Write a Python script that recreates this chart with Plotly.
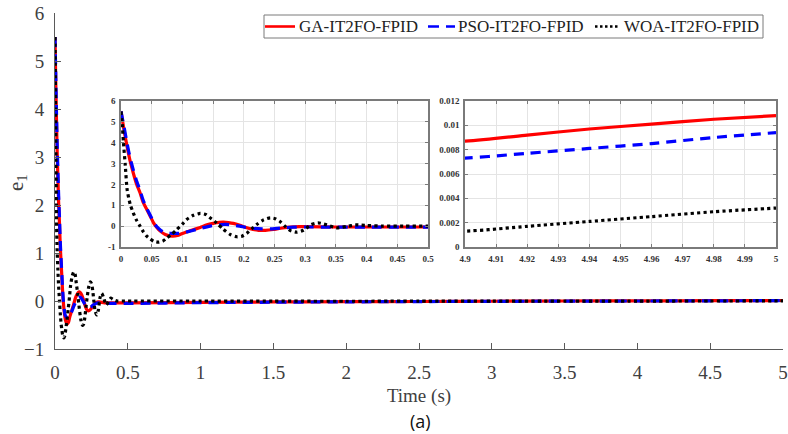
import plotly.graph_objects as go

# Error e1 of the three tuned controllers over time
t_ga = [0, 0.005, 0.01, 0.015, 0.02, 0.025, 0.031, 0.036, 0.042, 0.048, 0.053, 0.058, 0.064,
        0.072, 0.083, 0.092, 0.1, 0.115, 0.129, 0.14, 0.15, 0.16, 0.167, 0.175, 0.183, 0.195,
        0.205, 0.215, 0.224, 0.235, 0.248, 0.26, 0.275, 0.29, 0.302, 0.35, 0.4, 0.5,
        1.0, 1.5, 2.0, 2.5, 3.0, 3.5, 4.0, 4.5, 4.9, 4.92, 4.94, 4.96, 4.98, 5.0]
e_ga = [5.5, 4.6, 3.8, 3.1, 2.55, 2.05, 1.6, 1.15, 0.8, 0.45, 0.16, -0.05, -0.24,
        -0.4, -0.48, -0.45, -0.35, -0.2, -0.06, 0.06, 0.13, 0.18, 0.19, 0.17, 0.13, 0.03,
        -0.08, -0.16, -0.2, -0.2, -0.16, -0.1, -0.05, -0.02, -0.02, -0.04, -0.04, -0.04,
        -0.03, -0.02, -0.015, -0.01, -0.005, 0.0, 0.003, 0.006, 0.0087, 0.0092, 0.0097, 0.0101, 0.0105, 0.0108]

t_pso = [0, 0.005, 0.01, 0.015, 0.02, 0.025, 0.031, 0.036, 0.042, 0.048, 0.053, 0.058, 0.064,
         0.069, 0.08, 0.09, 0.1, 0.115, 0.13, 0.145, 0.157, 0.17, 0.183, 0.2, 0.215, 0.23,
         0.243, 0.26, 0.28, 0.3, 0.35, 0.4, 0.5,
         1.0, 1.5, 2.0, 2.5, 3.0, 3.5, 4.0, 4.5, 4.9, 4.92, 4.94, 4.96, 4.98, 5.0]
e_pso = [5.5, 4.75, 3.95, 3.25, 2.7, 2.2, 1.72, 1.25, 0.85, 0.5, 0.2, -0.02, -0.18,
         -0.29, -0.34, -0.35, -0.33, -0.22, -0.1, 0.0, 0.06, 0.08, 0.05, -0.04, -0.1, -0.13,
         -0.13, -0.09, -0.05, -0.04, -0.05, -0.05, -0.05,
         -0.035, -0.025, -0.018, -0.012, -0.007, -0.003, 0.0, 0.003, 0.0073, 0.0077, 0.0081, 0.0085, 0.009, 0.0094]

t_woa = [0, 0.002, 0.004, 0.007, 0.01, 0.015, 0.02, 0.025, 0.031, 0.036, 0.042, 0.048, 0.053,
         0.061, 0.068, 0.075, 0.083, 0.091, 0.1, 0.107, 0.118, 0.129, 0.138, 0.145, 0.156,
         0.167, 0.178, 0.189, 0.197, 0.205, 0.213, 0.221, 0.232, 0.243, 0.251, 0.259, 0.267,
         0.275, 0.286, 0.297, 0.31, 0.321, 0.335, 0.351, 0.367, 0.383, 0.4, 0.427, 0.46, 0.5,
         1.0, 1.5, 2.0, 2.5, 3.0, 3.5, 4.0, 4.5, 4.9, 4.92, 4.94, 4.96, 4.98, 5.0]
e_woa = [5.5, 4.9, 4.0, 2.9, 1.75, 1.04, 0.64, 0.3, 0.0, -0.25, -0.48, -0.62, -0.72,
         -0.77, -0.72, -0.56, -0.38, -0.16, 0.1, 0.32, 0.52, 0.61, 0.56, 0.4, 0.15,
         -0.16, -0.4, -0.51, -0.48, -0.34, -0.12, 0.08, 0.3, 0.4, 0.36, 0.22, 0.0,
         -0.2, -0.29, -0.2, 0.08, 0.16, 0.06, -0.08, -0.02, 0.06, 0.03, 0.0, 0.0, 0.0,
         0.0, -0.004, -0.005, -0.004, -0.003, -0.002, -0.001, 0.0, 0.0013, 0.0017, 0.0021, 0.0025, 0.0029, 0.0032]

series = [
    ("GA-IT2FO-FPID", t_ga, e_ga, "#ff0000", "solid"),
    ("PSO-IT2FO-FPID", t_pso, e_pso, "#0000ff", "10px,7px"),
    ("WOA-IT2FO-FPID", t_woa, e_woa, "#000000", "dot"),
]

main_ticks_x = [0, 0.5, 1, 1.5, 2, 2.5, 3, 3.5, 4, 4.5, 5]
main_ticks_y = [-1, 0, 1, 2, 3, 4, 5, 6]
zoom1_ticks_x = [0, 0.05, 0.1, 0.15, 0.2, 0.25, 0.3, 0.35, 0.4, 0.45, 0.5]
zoom1_ticks_y = [-1, 0, 1, 2, 3, 4, 5, 6]
zoom2_ticks_x = [4.9, 4.91, 4.92, 4.93, 4.94, 4.95, 4.96, 4.97, 4.98, 4.99, 5]
zoom2_ticks_y = [0, 0.002, 0.004, 0.006, 0.008, 0.01, 0.012]

W, H = 788, 434
fig = go.Figure()

for name, tx, ey, col, dash in series:
    for ax in ("", "2", "3"):
        fig.add_trace(go.Scatter(
            x=tx, y=ey, mode="lines", name=name, showlegend=False,
            xaxis="x" + ax, yaxis="y" + ax,
            line=dict(color=col, width=3.2, dash=dash, shape="spline", smoothing=0.6),
        ))

serif = "Liberation Serif, Times New Roman, serif"
axcol = "#5a5a5a"
boxcol = "#7a7a7a"


def fmt(v):
    return "%g" % v


def inset_axis(domain, rng, anchor, ticks):
    return dict(domain=domain, range=rng, anchor=anchor, tickvals=ticks,
                ticktext=[fmt(v) for v in ticks], automargin=False,
                showline=True, mirror="ticks", linecolor=boxcol, linewidth=1.5,
                ticks="inside", ticklen=3, tickcolor=boxcol,
                showgrid=True, gridcolor="#e4e4e4", zeroline=False, ticklabelstandoff=2,
                tickfont=dict(size=9, family=serif, color="#333333", weight="bold"))


# Legend box drawn by hand: sample line + label per series, in pixel positions
legend_box = (264, 15, 763, 38)
legend_rows = [  # (line x0, line x1, label x)
    (265, 295, 297),
    (428, 455, 456),
    (595, 620, 622),
]
legend_dash = ["solid", "11px,7px", "2.5px,2.5px"]
ly = 26.5

shapes = [dict(type="rect", xref="paper", yref="paper",
               x0=legend_box[0] / W, x1=legend_box[2] / W,
               y0=1 - legend_box[3] / H, y1=1 - legend_box[1] / H,
               line=dict(color=boxcol, width=1), fillcolor="white", layer="below")]
annotations = []
for (lx0, lx1, tx0), (name, _, _, col, _), dsh in zip(legend_rows, series, legend_dash):
    shapes.append(dict(type="line", xref="paper", yref="paper",
                       x0=lx0 / W, x1=lx1 / W, y0=1 - ly / H, y1=1 - ly / H,
                       line=dict(color=col, width=2.6, dash=dsh)))
    annotations.append(dict(text=name, x=tx0 / W, y=1 - ly / H, xref="paper", yref="paper",
                            xanchor="left", yanchor="middle", showarrow=False,
                            font=dict(size=17, family=serif, color="#222222")))

annotations += [
    dict(text="e<sub>1</sub>", x=17 / W, y=1 - 183 / H, xref="paper", yref="paper",
         xanchor="center", yanchor="middle",
         showarrow=False, textangle=-90, font=dict(size=21, family=serif, color="#404040")),
    dict(text="(a)", x=420 / W, y=1 - 421 / H, xref="paper", yref="paper",
         xanchor="center", yanchor="middle",
         showarrow=False, font=dict(size=18, family="Open Sans", color="#111111")),
]

fig.update_layout(
    width=W, height=H,
    margin=dict(l=0, r=0, t=0, b=0, autoexpand=False),
    paper_bgcolor="white", plot_bgcolor="white",
    font=dict(family=serif, color="#333333"),
    showlegend=False,
    xaxis=dict(domain=[55 / W, 783 / W], range=[0, 5], tickvals=main_ticks_x,
               ticktext=[fmt(v) for v in main_ticks_x], automargin=False,
               showline=True, linecolor=axcol, linewidth=1, ticks="inside", ticklen=6,
               tickcolor=axcol, showgrid=False, zeroline=False, ticklabelstandoff=6,
               tickfont=dict(size=19, family=serif, color="#404040"),
               title=dict(text="Time (s)", font=dict(size=19, family=serif, color="#404040"), standoff=6)),
    yaxis=dict(domain=[1 - 349 / H, 1 - 13 / H], range=[-1, 6], tickvals=main_ticks_y, automargin=False,
               showline=True, linecolor=axcol, linewidth=1, ticks="inside", ticklen=6,
               tickcolor=axcol, showgrid=False, zeroline=False, ticklabelstandoff=6,
               tickfont=dict(size=19, family=serif, color="#404040")),
    xaxis2=inset_axis([121 / W, 428 / W], [0, 0.5], "y2", zoom1_ticks_x),
    yaxis2=inset_axis([1 - 247 / H, 1 - 101 / H], [-1, 6], "x2", zoom1_ticks_y),
    xaxis3=inset_axis([465 / W, 776 / W], [4.9, 5], "y3", zoom2_ticks_x),
    yaxis3=inset_axis([1 - 247 / H, 1 - 101 / H], [0, 0.012], "x3", zoom2_ticks_y),
    shapes=shapes,
    annotations=annotations,
)

fig.write_html("out.html")
